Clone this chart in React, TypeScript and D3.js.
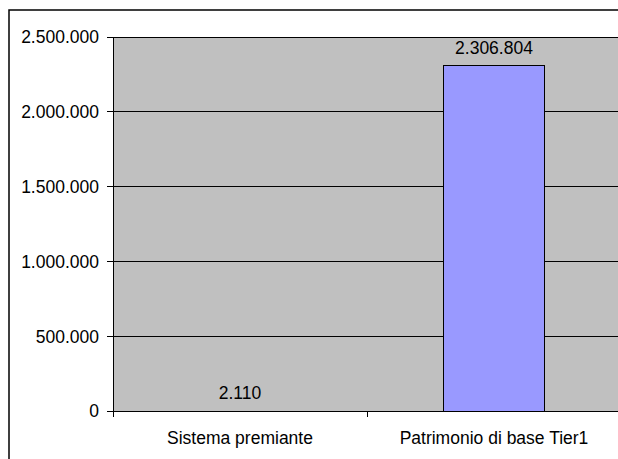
import { useEffect, useRef } from 'react';
import * as d3 from 'd3';

const categories = ['Sistema premiante', 'Patrimonio di base Tier1'];
const values = [2110, 2306804];
const yTicks = [0, 500000, 1000000, 1500000, 2000000, 2500000];

const W = 618;
const H = 459;
const FONT = 'Liberation Sans, Arial, sans-serif';
const FS = 17.5;

// formato italiano: 2.306.804
const fmt = (v: number) => d3.format(',')(v).replace(/,/g, '.');

export default function App() {
  const svgRef = useRef<SVGSVGElement>(null);

  useEffect(() => {
    if (!svgRef.current) return;
    const svg = d3.select(svgRef.current);
    svg.selectAll('*').remove();

    const left = 113, top = 37, right = 621, bottom = 411;

    const x = d3.scaleBand<string>().domain(categories).range([left, right]).padding(0);
    const y = d3.scaleLinear().domain([0, 2500000]).range([bottom, top]);

    // cornice esterna
    svg.append('rect')
      .attr('x', 9).attr('y', 10)
      .attr('width', 640).attr('height', 480)
      .attr('fill', '#fff')
      .attr('stroke', '#000')
      .attr('stroke-width', 1.5);

    // area del grafico
    svg.append('rect')
      .attr('x', left).attr('y', top)
      .attr('width', right - left).attr('height', bottom - top)
      .attr('fill', '#c0c0c0')
      .attr('stroke', '#808080')
      .attr('stroke-width', 1)
      .attr('shape-rendering', 'crispEdges');

    // griglia
    svg.append('g')
      .attr('shape-rendering', 'crispEdges')
      .selectAll('line')
      .data(yTicks.slice(1))
      .join('line')
      .attr('x1', left).attr('x2', right)
      .attr('y1', d => y(d)).attr('y2', d => y(d))
      .attr('stroke', '#000')
      .attr('stroke-width', 1);

    // barre
    const barW = x.bandwidth() * 0.4;
    svg.append('g')
      .attr('shape-rendering', 'crispEdges')
      .selectAll('rect')
      .data(values)
      .join('rect')
      .attr('x', (_, i) => x(categories[i])! + (x.bandwidth() - barW) / 2)
      .attr('y', d => y(d))
      .attr('width', barW)
      .attr('height', d => y(0) - y(d))
      .attr('fill', '#9999ff')
      .attr('stroke', d => (y(0) - y(d) < 2 ? 'none' : '#000'))
      .attr('stroke-width', 1);

    // asse y
    const yAxis = svg.append('g').attr('shape-rendering', 'crispEdges');
    yAxis.append('line')
      .attr('x1', left).attr('x2', left)
      .attr('y1', top).attr('y2', bottom)
      .attr('stroke', '#000');
    yAxis.selectAll('line.tick')
      .data(yTicks)
      .join('line')
      .attr('class', 'tick')
      .attr('x1', left - 6).attr('x2', left)
      .attr('y1', d => y(d)).attr('y2', d => y(d))
      .attr('stroke', '#000');
    yAxis.selectAll('text')
      .data(yTicks)
      .join('text')
      .attr('x', 99)
      .attr('y', d => y(d))
      .attr('dy', '0.36em')
      .attr('text-anchor', 'end')
      .attr('font-family', FONT)
      .attr('font-size', FS)
      .attr('fill', '#000')
      .text(d => fmt(d));

    // asse x
    const xAxis = svg.append('g').attr('shape-rendering', 'crispEdges');
    xAxis.append('line')
      .attr('x1', left).attr('x2', right)
      .attr('y1', bottom).attr('y2', bottom)
      .attr('stroke', '#000');
    xAxis.selectAll('line.tick')
      .data([left, ...categories.map(c => x(c)! + x.bandwidth())])
      .join('line')
      .attr('class', 'tick')
      .attr('x1', d => d).attr('x2', d => d)
      .attr('y1', bottom).attr('y2', bottom + 6)
      .attr('stroke', '#000');
    xAxis.selectAll('text')
      .data(categories)
      .join('text')
      .attr('x', d => x(d)! + x.bandwidth() / 2)
      .attr('y', 444)
      .attr('text-anchor', 'middle')
      .attr('font-family', FONT)
      .attr('font-size', FS)
      .attr('fill', '#000')
      .text(d => d);

    // etichette dei valori
    svg.append('g')
      .selectAll('text')
      .data(values)
      .join('text')
      .attr('x', (_, i) => x(categories[i])! + x.bandwidth() / 2)
      .attr('y', d => y(d) - 12)
      .attr('text-anchor', 'middle')
      .attr('font-family', FONT)
      .attr('font-size', FS)
      .attr('fill', '#000')
      .text(d => fmt(d));
  }, []);

  return (
    <svg
      ref={svgRef}
      width={W}
      height={H}
      style={{ position: 'fixed', top: 0, left: 0, display: 'block' }}
    />
  );
}
